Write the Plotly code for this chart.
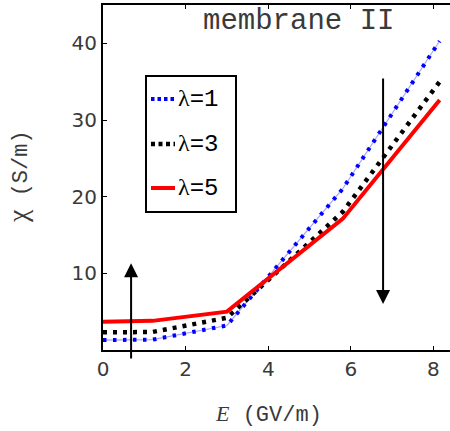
import plotly.graph_objects as go

# ---- data ----
E_vals = [0.0, 1.2, 3.0, 5.8, 8.15]
chi_l1 = [1.3, 1.35, 3.2, 21.0, 40.3]
chi_l3 = [2.3, 2.35, 4.2, 18.0, 35.0]
chi_l5 = [3.7, 3.8, 5.0, 17.1, 32.6]
series_names = ["λ=1", "λ=3", "λ=5"]
x_ticks = [0, 2, 4, 6, 8]
y_ticks = [10, 20, 30, 40]
up_arrow = dict(x=0.68, y0=-1.3, y1=11.3)
down_arrow = dict(x=6.78, y0=35.6, y1=6.0)

MONO = "Liberation Mono, Courier New, monospace"
SERIF = "Liberation Serif, DejaVu Serif, serif"
TICKF = "DejaVu Sans, sans-serif"
GRAY = "#3a3a3a"

fig = go.Figure()
# blue dash-dot: thin underlay + square dots
fig.add_trace(go.Scatter(x=E_vals, y=chi_l1, mode="lines", showlegend=False, hoverinfo="skip",
                         line=dict(color="rgba(90,90,255,0.55)", width=1.2)))
fig.add_trace(go.Scatter(x=E_vals, y=chi_l1, mode="lines", name=series_names[0], showlegend=False,
                         line=dict(color="#0000ff", width=4, dash="3.5px,6.5px")))
fig.add_trace(go.Scatter(x=E_vals, y=chi_l3, mode="lines", name=series_names[1], showlegend=False,
                         line=dict(color="#000000", width=4.5, dash="4px,6px")))
fig.add_trace(go.Scatter(x=E_vals, y=chi_l5, mode="lines", name=series_names[2], showlegend=False,
                         line=dict(color="#ff0000", width=4)))

axis_common = dict(showline=True, linecolor="black", linewidth=2, ticks="inside",
                   ticklen=4, tickwidth=1, tickcolor="black", showgrid=False, zeroline=False,
                   tickfont=dict(family=TICKF, size=20, color=GRAY))
fig.update_xaxes(range=[0, 8.4], tickvals=x_ticks, mirror="ticks", **axis_common)
fig.update_yaxes(range=[0, 45], tickvals=y_ticks, mirror=False, **axis_common)

# legend drawn manually
def px2paper(px, py):
    return (px - 103) / 347.0, (350 - py) / 345.0

shapes = []
x0, y0 = px2paper(146, 76)
x1, y1 = px2paper(236, 212)
shapes.append(dict(type="rect", xref="paper", yref="paper", x0=x0, y0=y1, x1=x1, y1=y0,
                   line=dict(color="black", width=2), fillcolor="white", layer="above"))
leg_styles = [dict(color="#0000ff", width=4, dash="3.5px,3px"),
              dict(color="#000000", width=4.5, dash="4px,3.5px"),
              dict(color="#ff0000", width=4, dash="solid")]
leg_y = [99, 144, 188]
annotations = []
for name, st, py in zip(series_names, leg_styles, leg_y):
    lx0, ly = px2paper(151, py)
    lx1, _ = px2paper(175, py)
    shapes.append(dict(type="line", xref="paper", yref="paper", x0=lx0, y0=ly, x1=lx1, y1=ly,
                       line=st, layer="above"))
    tx, _ = px2paper(176, py)
    annotations.append(dict(xref="paper", yref="paper", x=tx, y=ly, xanchor="left", yanchor="middle",
                            showarrow=False,
                            text="<span style='font-family:Liberation Serif'>λ</span>=" + name.split("=")[1],
                            font=dict(family=MONO, size=24, color="black")))

# arrows
for a in (up_arrow, down_arrow):
    annotations.append(dict(x=a["x"], y=a["y1"], ax=a["x"], ay=a["y0"], xref="x", yref="y",
                            axref="x", ayref="y", showarrow=True, arrowhead=2, arrowsize=1.4,
                            arrowwidth=2, arrowcolor="black", text=""))

# title and axis titles
annotations.append(dict(xref="paper", yref="paper", x=(298 - 103) / 347, y=(350 - 22) / 345,
                        xanchor="center", yanchor="middle", showarrow=False, text="membrane II",
                        font=dict(family=MONO, size=29, color=GRAY)))
annotations.append(dict(xref="paper", yref="paper", x=(268 - 103) / 347, y=(350 - 414) / 345,
                        xanchor="center", yanchor="middle", showarrow=False,
                        text="<span style='font-family:Liberation Serif;font-style:italic'>E</span> (GV/m)",
                        font=dict(family=MONO, size=22, color=GRAY)))
annotations.append(dict(xref="paper", yref="paper", x=(18 - 103) / 347, y=(350 - 177) / 345,
                        xanchor="center", yanchor="middle", showarrow=False, textangle=-90,
                        text="<span style='font-family:Liberation Serif;font-size:28px'>χ</span> (S/m)",
                        font=dict(family=MONO, size=22, color=GRAY)))

fig.update_layout(width=450, height=431, margin=dict(l=103, r=0, t=5, b=81),
                  paper_bgcolor="white", plot_bgcolor="white", showlegend=False,
                  shapes=shapes, annotations=annotations)
fig.write_html("out.html", config={"displayModeBar": False},
               post_script="document.body.style.margin='0';document.body.style.overflow='hidden';")
